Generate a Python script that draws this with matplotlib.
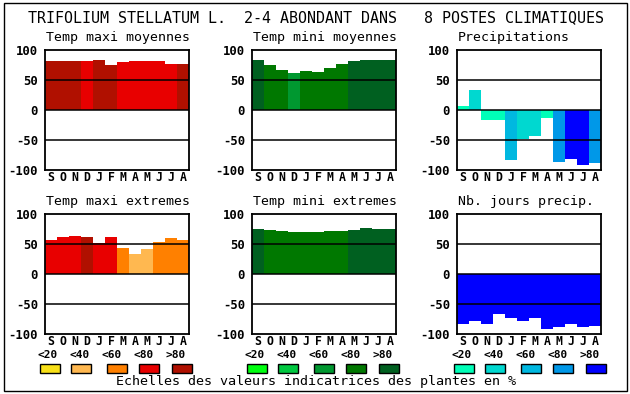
import matplotlib
matplotlib.use("Agg")
import matplotlib.pyplot as plt
from matplotlib.patches import Rectangle

W, H = 630, 394

months = ["S", "O", "N", "D", "J", "F", "M", "A", "M", "J", "J", "A"]
yticks = [100, 50, 0, -50, -100]

# values and colour classes (0..4 -> <20 ... >80)
maxi_moy = [82, 82, 82, 82, 84, 75, 80, 82, 82, 82, 77, 77]
maxi_moy_cls = [4, 4, 4, 3, 4, 4, 3, 3, 3, 3, 3, 4]
mini_moy = [83, 75, 67, 62, 65, 63, 70, 77, 82, 83, 83, 83]
mini_moy_cls = [4, 3, 3, 2, 3, 3, 3, 3, 4, 4, 4, 4]
precip = [7, 33, -17, -17, -83, -48, -43, -13, -86, -81, -91, -88]
precip_cls = [0, 1, 0, 0, 2, 1, 1, 0, 3, 4, 4, 3]
maxi_ext = [57, 62, 64, 62, 52, 62, 44, 34, 42, 54, 60, 57]
maxi_ext_cls = [3, 3, 3, 4, 3, 3, 2, 1, 1, 2, 2, 2]
mini_ext = [75, 74, 72, 70, 70, 70, 72, 72, 74, 77, 75, 75]
mini_ext_cls = [4, 3, 3, 3, 3, 3, 3, 3, 4, 4, 4, 4]
nb_jours = [-84, -78, -84, -66, -73, -78, -74, -91, -88, -84, -88, -86]
nb_jours_cls = [4] * 12

reds = ["#F8E018", "#FFB850", "#FF8000", "#E80000", "#B01000"]
greens = ["#00FF10", "#00C840", "#009830", "#007800", "#006020"]
blues = ["#00FFB8", "#00D8D0", "#00B8E0", "#0098E8", "#0000FF"]
scale_labels = ["<20", "<40", "<60", "<80", ">80"]

panels = [
    ("Temp maxi moyennes", maxi_moy, maxi_moy_cls, reds),
    ("Temp mini moyennes", mini_moy, mini_moy_cls, greens),
    ("Precipitations", precip, precip_cls, blues),
    ("Temp maxi extremes", maxi_ext, maxi_ext_cls, reds),
    ("Temp mini extremes", mini_ext, mini_ext_cls, greens),
    ("Nb. jours precip.", nb_jours, nb_jours_cls, blues),
]

mono = "DejaVu Sans Mono"
fig = plt.figure(figsize=(W / 100, H / 100), dpi=100)

def fx(x):
    return x / W

def fy(y):
    return 1 - y / H

# outer frame
fig.patches.append(Rectangle((fx(4), fy(391)), fx(623), 388 / H, transform=fig.transFigure,
                             fill=False, edgecolor="black", lw=1))

fig.text(fx(316), fy(18), "TRIFOLIUM STELLATUM L.  2-4 ABONDANT DANS   8 POSTES CLIMATIQUES",
         ha="center", va="center", family=mono, fontsize=10.8)

lefts = [45, 252, 457]
tops = [50, 214]
aw, ah = 144, 120

for i, (title, vals, cls, pal) in enumerate(panels):
    left = lefts[i % 3]
    top = tops[i // 3]
    ax = fig.add_axes([fx(left), fy(top + ah), aw / W, ah / H])
    ax.bar(range(12), vals, width=1.0, color=[pal[c] for c in cls], zorder=1)
    for yl in (50, 0, -50):
        ax.axhline(yl, color="black", lw=1.1, zorder=3)
    ax.set_xlim(-0.5, 11.5)
    ax.set_ylim(-100, 100)
    ax.set_yticks(yticks)
    ax.set_yticklabels([str(v) for v in yticks], family=mono, fontweight="bold", fontsize=8.8)
    ax.set_xticks(range(12))
    ax.set_xticklabels(months, family=mono, fontweight="bold", fontsize=8.3)
    ax.tick_params(length=0, axis="y", pad=5)
    ax.tick_params(length=0, axis="x", pad=0.5)
    for s in ax.spines.values():
        s.set_linewidth(1.3)
    fig.text(fx(left + 1), fy(top - 12), title, ha="left", va="center",
             family=mono, fontsize=9.5)

# colour scales
swatch_off = [0, 31, 67, 99, 132]
label_off = [8, 40, 72, 104, 136]
for j, pal in enumerate([reds, greens, blues]):
    x0 = 40 + 207 * j
    for k in range(5):
        fig.text(fx(x0 + label_off[k]), fy(355), scale_labels[k], ha="center", va="center",
                 family=mono, fontweight="bold", fontsize=8)
        fig.patches.append(Rectangle((fx(x0 + swatch_off[k]), fy(373)), 20 / W, 9 / H,
                                     transform=fig.transFigure, facecolor=pal[k],
                                     edgecolor="black", lw=1))

fig.text(fx(316), fy(382), "Echelles des valeurs indicatrices des plantes en %",
         ha="center", va="center", family=mono, fontsize=9.6)

fig.savefig("out.png", dpi=100)
